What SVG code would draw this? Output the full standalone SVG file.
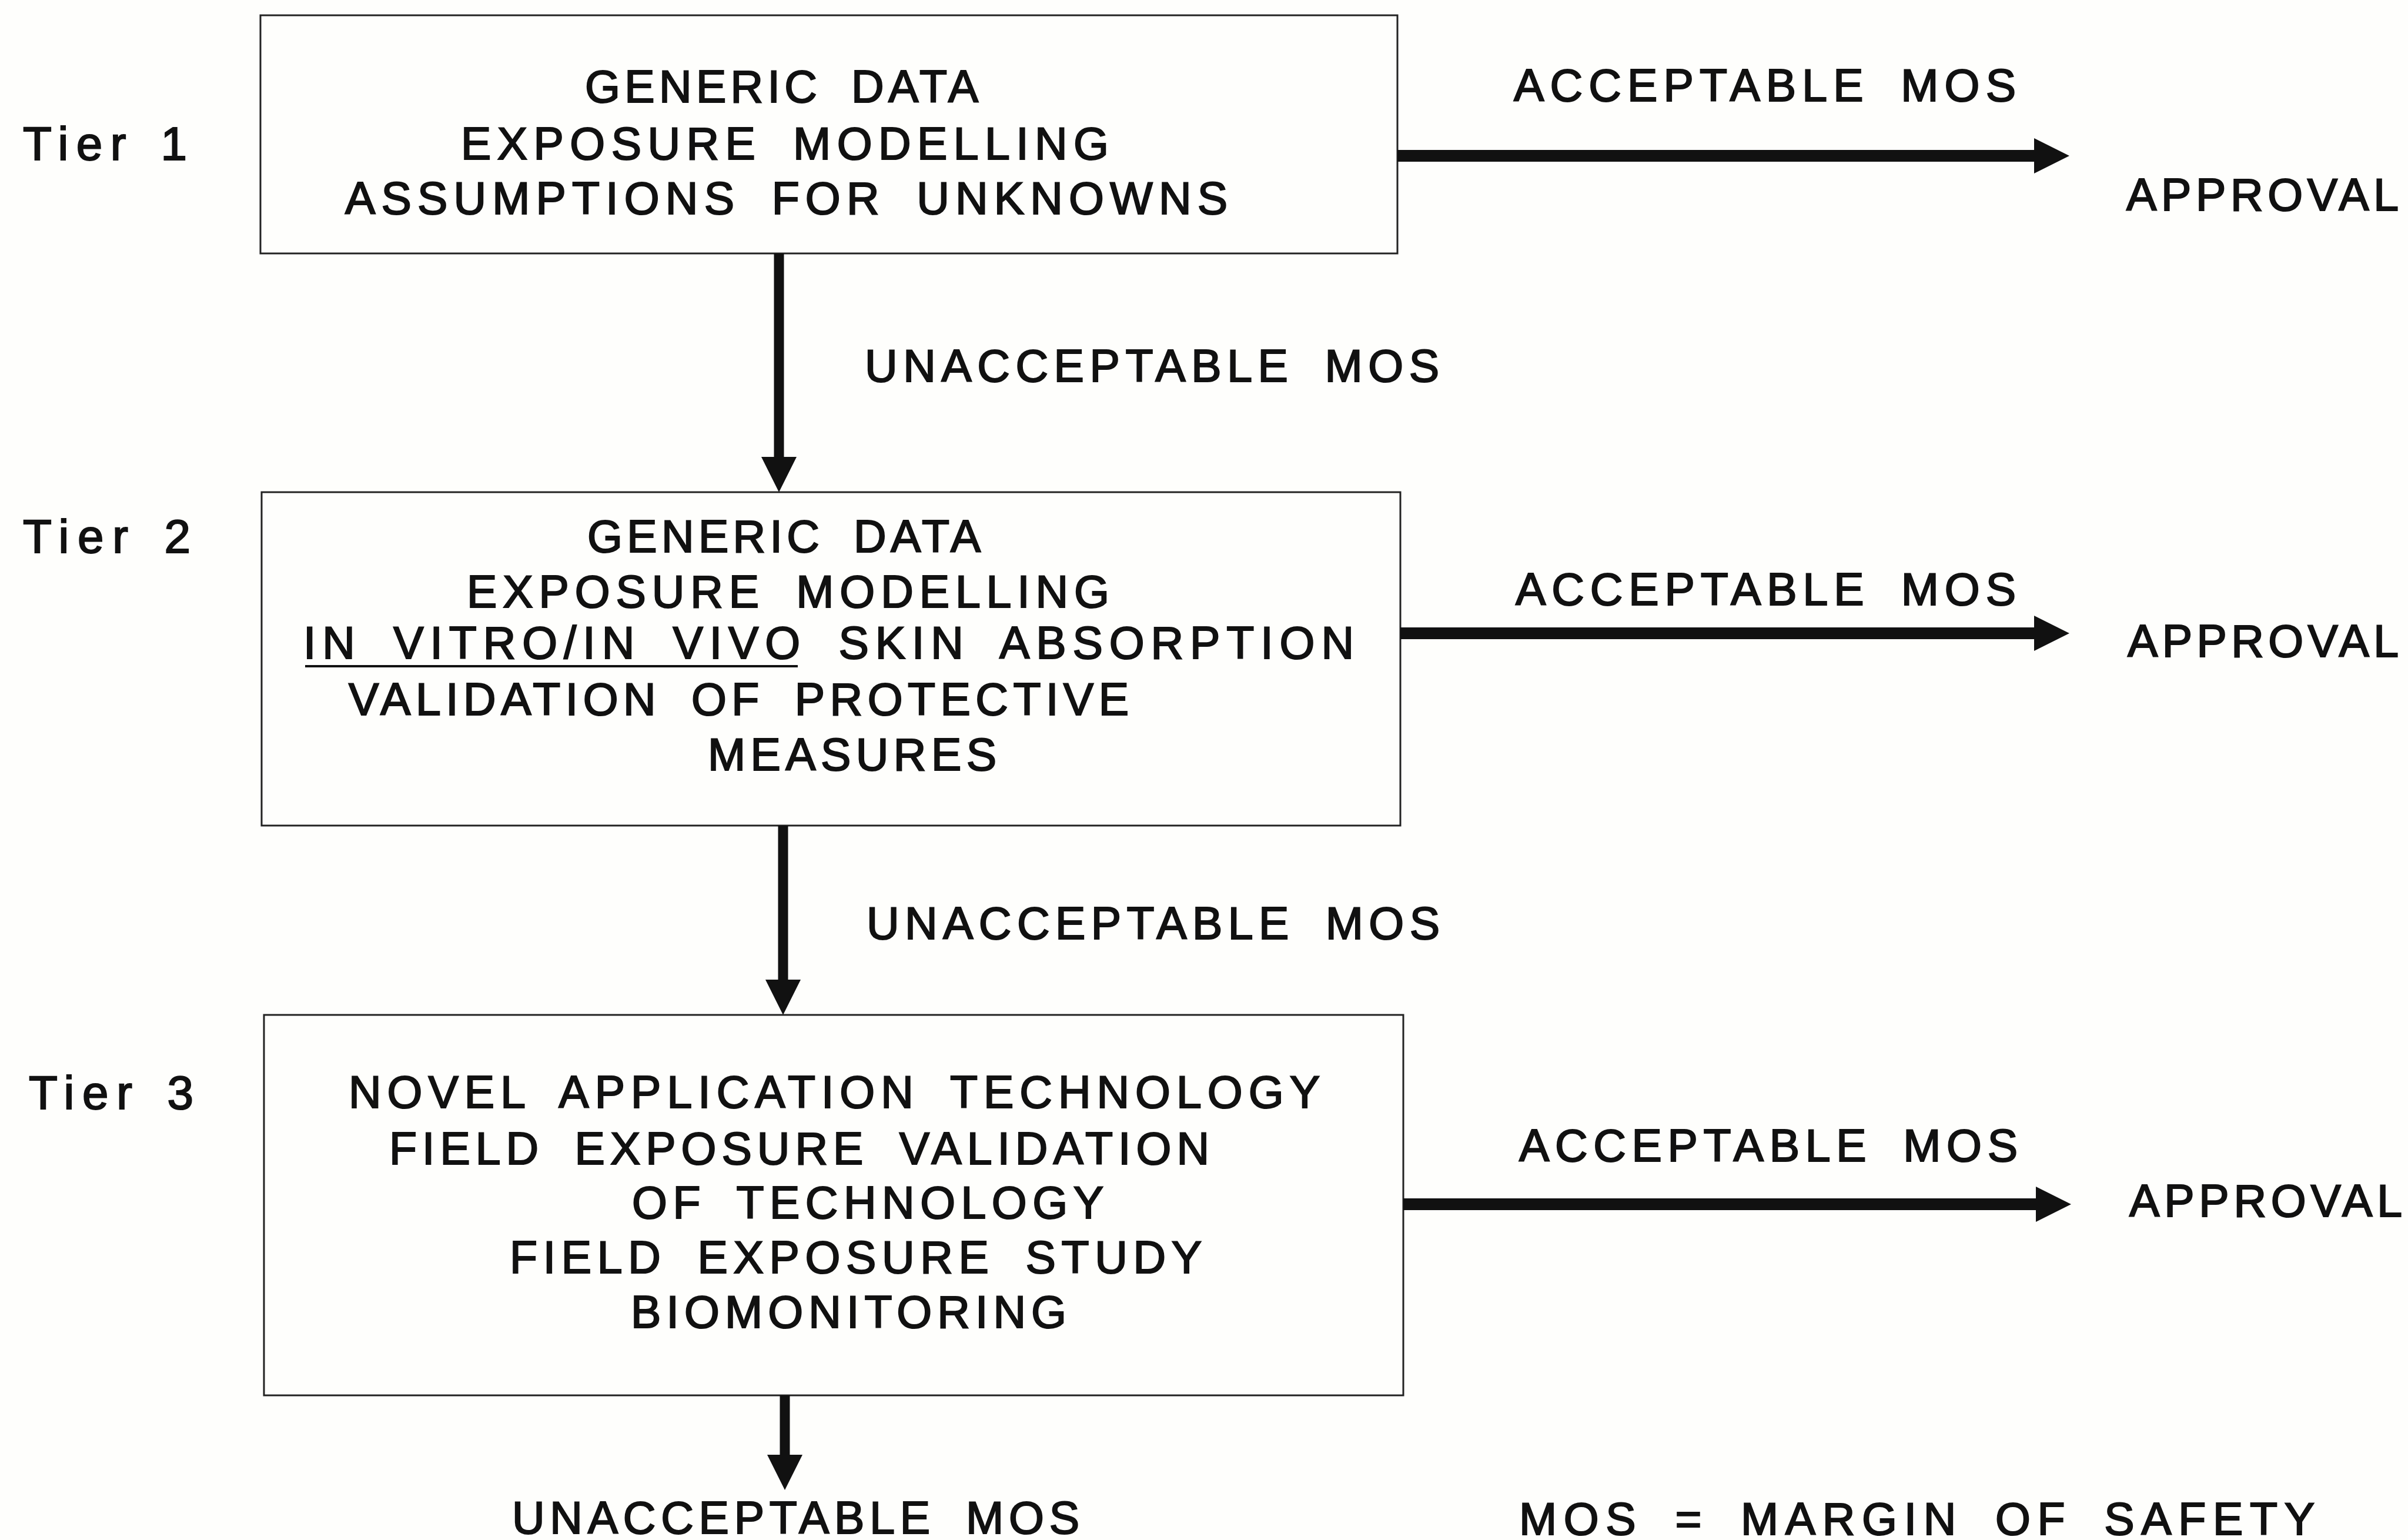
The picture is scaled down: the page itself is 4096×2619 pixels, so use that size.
<svg xmlns="http://www.w3.org/2000/svg" width="4096" height="2619" viewBox="0 0 4096 2619">
<defs>
<style>
text{font-family:"Liberation Sans",Arial,sans-serif;font-size:77px;fill:#111;stroke:#111;stroke-width:2.2;word-spacing:22px}
.tier{font-size:80px;word-spacing:10px}
.box{fill:none;stroke:#222;stroke-width:3}
.conn{fill:none;stroke:#111}
.h{stroke-width:20}
.v{stroke-width:17}
</style>
<marker id="ah" markerUnits="userSpaceOnUse" markerWidth="62" markerHeight="62" refX="20" refY="30" orient="auto">
<path d="M0,0 L60,30 L0,60 Z" fill="#111"/>
</marker>
</defs>
<rect width="4096" height="2619" fill="#fefefc"/>

<g id="tier1">
<rect class="box" x="443" y="26" width="1934" height="405"/>
<text x="995" y="174" textLength="669">GENERIC DATA</text>
<text x="784" y="271" textLength="1102">EXPOSURE MODELLING</text>
<text x="587" y="364" textLength="1501">ASSUMPTIONS FOR UNKNOWNS</text>
<text class="tier" x="39" y="272" textLength="279">Tier 1</text>
</g>

<g id="tier2">
<rect class="box" x="445" y="837" width="1937" height="567"/>
<text x="999" y="939" textLength="669">GENERIC DATA</text>
<text x="794" y="1033" textLength="1093">EXPOSURE MODELLING</text>
<text x="516" y="1120" textLength="1787">IN VITRO/IN VIVO SKIN ABSORPTION</text>
<line x1="519" y1="1133" x2="1357" y2="1133" stroke="#111" stroke-width="4"/>
<text x="593" y="1216" textLength="1327">VALIDATION OF PROTECTIVE</text>
<text x="1204" y="1310" textLength="491">MEASURES</text>
<text class="tier" x="39" y="940" textLength="285">Tier 2</text>
</g>

<g id="tier3">
<rect class="box" x="449" y="1726" width="1938" height="647"/>
<text x="593" y="1884" textLength="1652">NOVEL APPLICATION TECHNOLOGY</text>
<text x="662" y="1980" textLength="1395">FIELD EXPOSURE VALIDATION</text>
<text x="1075" y="2072" textLength="802">OF TECHNOLOGY</text>
<text x="867" y="2165" textLength="1177">FIELD EXPOSURE STUDY</text>
<text x="1073" y="2258" textLength="741">BIOMONITORING</text>
<text class="tier" x="49" y="1886" textLength="280">Tier 3</text>
</g>

<g id="approval1"><text x="3617" y="358" textLength="463">APPROVAL</text></g>
<g id="approval2"><text x="3619" y="1117" textLength="461">APPROVAL</text></g>
<g id="approval3"><text x="3622" y="2069" textLength="464">APPROVAL</text></g>
<g id="unacceptable-final"><text x="871" y="2608" textLength="965">UNACCEPTABLE MOS</text></g>
<g id="legend"><text x="2584" y="2610" textLength="1353">MOS = MARGIN OF SAFETY</text></g>

<g id="connectors">
<path class="conn h" d="M2377,265 H3480" marker-end="url(#ah)"/>
<path class="conn h" d="M2382,1077 H3480" marker-end="url(#ah)"/>
<path class="conn h" d="M2387,2048 H3483" marker-end="url(#ah)"/>
<path class="conn v" d="M1325,431 V797" marker-end="url(#ah)"/>
<path class="conn v" d="M1332,1404 V1686" marker-end="url(#ah)"/>
<path class="conn v" d="M1335,2373 V2494" marker-end="url(#ah)"/>
<text x="2575" y="172" textLength="854">ACCEPTABLE MOS</text>
<text x="2578" y="1029" textLength="851">ACCEPTABLE MOS</text>
<text x="2584" y="1975" textLength="848">ACCEPTABLE MOS</text>
<text x="1471" y="649" textLength="977">UNACCEPTABLE MOS</text>
<text x="1474" y="1597" textLength="975">UNACCEPTABLE MOS</text>
</g>
</svg>
